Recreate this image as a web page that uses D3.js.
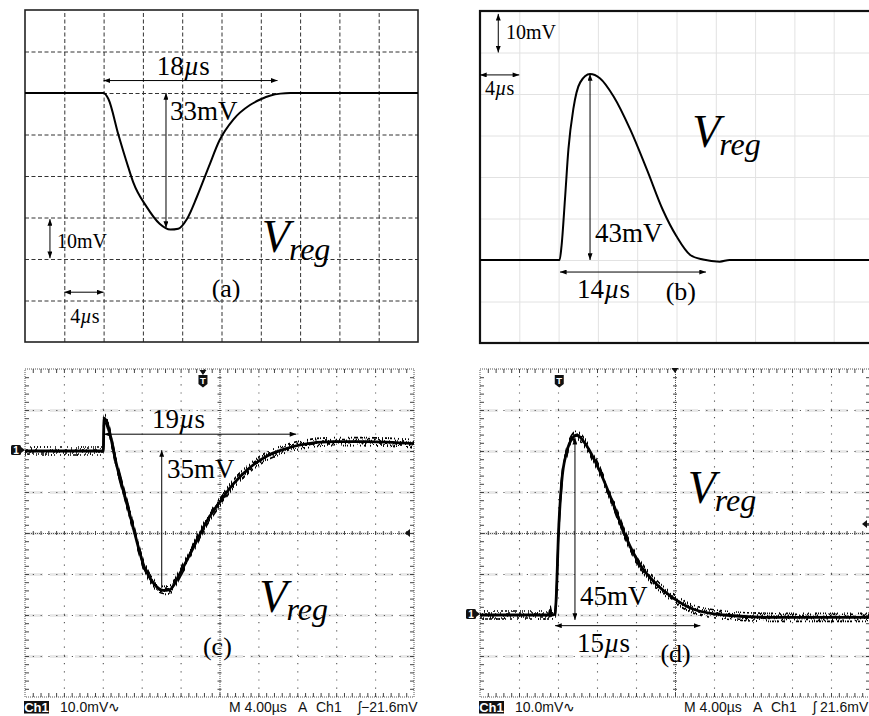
<!DOCTYPE html>
<html><head><meta charset="utf-8">
<script src="https://cdn.jsdelivr.net/npm/d3@7"></script>
<style>body{margin:0;background:#fff}svg{display:block}</style>
</head><body>
<svg id="chart" width="869" height="716"></svg>
<script>
// ---------------- DATA ----------------
const timeDomain = [0, 40];                 // µs, 4 µs / div
const timeTicks = [4, 8, 12, 16, 24, 28, 32, 36];
const timeCenter = 20;
const timeMinor = d3.range(0.8, 40, 0.8);

const voltDomainA = [20, -60], voltTicksA = [10, 0, -10, -20, -30, -40, -50];
const voltDomainB = [60, -20], voltTicksB = [50, 40, 30, 20, 10, 0, -10];
const voltDomainC = [20, -60], voltTicksC = [10, 0, -10, -30, -40, -50], voltCenterC = -20;
const voltDomainD = [60, -20], voltTicksD = [50, 40, 30, 10, 0, -10], voltCenterD = 20;
const voltMinorC = d3.range(-58, 20, 2);
const voltMinorD = d3.range(-18, 60, 2);

// (a) simulated Vreg, load step
const timeA = [0, 8, 8.5, 9.5, 10.5, 11.0, 12.4, 13.7, 14.8, 15.6, 16.5, 17.5, 18.7, 19.8, 21.2, 22.9, 24.0, 25.0, 26.0, 27.0, 40];
const vregA = [0, 0, -1.5, -10, -17.8, -21.4, -27.5, -31.5, -32.9, -32.7, -30.3, -25, -17.8, -11.4, -6.4, -2.9, -1.5, -0.6, -0.15, 0, 0];
// (b) simulated Vreg, load release
const timeB = [0, 8.1, 8.3, 8.65, 9.0, 9.5, 10.2, 11.2, 12.2, 13.6, 15.3, 17.0, 18.6, 20.0, 21.4, 22.7, 24.4, 25.4, 40];
const vregB = [0, 0, 3.4, 14.7, 26.7, 36.4, 42.8, 44.8, 43.8, 39.4, 31.4, 21.7, 12.1, 5.7, 1.2, 0.1, -0.4, 0, 0];
// (c) measured Vreg, load step
const timeC = [0, 8.05, 8.13, 9.5, 11.0, 12.3, 13.3, 14.2, 14.9, 15.9, 17.3, 18.7, 20.1, 21.4, 23.1, 24.9, 26.6, 28.3, 31.7, 35.1, 40];
const vregC = [0, 0, 8, -4.2, -17.5, -28.5, -32.5, -34, -33.8, -30, -23.6, -17.1, -12.2, -8.1, -4.1, -1.2, 0.4, 1.5, 2.3, 2.3, 1.8];
// (d) measured Vreg, load release
const timeD = [0, 7.1, 7.2, 7.3, 7.7, 7.86, 8.03, 8.38, 8.9, 9.56, 9.9, 10.9, 12.3, 13.7, 15.0, 16.4, 18.1, 19.8, 21.9, 25, 30.1, 40];
const vregD = [0, 0, 1.2, 0, 0.2, 6.6, 18.8, 32.5, 39.8, 43.4, 43.9, 41.4, 35, 26.9, 18.8, 12.3, 7.5, 4.2, 1.4, 0, -0.6, -0.6];

// annotation anchors (µs, mV)
const widthA = ["18", 8, 25.7, 3], depthA = ["33", 14.35, 0, -32.5];
const widthB = ["14", 8.14, 23, -2.9], depthB = ["43", 11.2, 0, 44.8];
const widthC = ["19", 8.12, 27.9, 4.1], depthC = ["35", 14.06, 0.2, -33.4];
const widthD = ["15", 7.7, 22.6, -2.6], depthD = ["45", 9.74, -1.2, 43.2];
const scaleLabels = ["10mV", "4"];
const statusLabels = ["Ch1", "10.0mV\u223F", "M 4.00\u00B5s", "A", "Ch1"];
const trigLevelC = "\u0283\u221221.6mV", trigLevelD = "\u0283 21.6mV";

// ---------------- DRAW ----------------
const SERIF = "'Liberation Serif','Times New Roman',serif";
const SANS = "'Liberation Sans',Arial,sans-serif";
const svg = d3.select("#chart");
svg.append("rect").attr("width", 869).attr("height", 716).attr("fill", "#fff");

const defs = svg.append("defs");
defs.append("marker").attr("id", "arr").attr("viewBox", "0 0 8 6").attr("refX", 8).attr("refY", 3)
  .attr("markerWidth", 7).attr("markerHeight", 5).attr("markerUnits", "userSpaceOnUse")
  .attr("orient", "auto-start-reverse")
  .append("path").attr("d", "M0,0L8,3L0,6Z").attr("fill", "#000");
function noiseFilter(id, seed, scale) {
  const flt = defs.append("filter").attr("id", id).attr("filterUnits", "userSpaceOnUse")
    .attr("x", 0).attr("y", 0).attr("width", 869).attr("height", 716);
  flt.append("feTurbulence").attr("type", "fractalNoise").attr("baseFrequency", "1.3 0.02").attr("numOctaves", 2).attr("seed", seed).attr("result", "t");
  flt.append("feColorMatrix").attr("in", "t").attr("type", "matrix")
    .attr("values", "0 0 0 0 0.5  0 4 0 0 -1.5  0 0 0 0 0  0 0 0 0 1").attr("result", "m");
  flt.append("feDisplacementMap").attr("in", "SourceGraphic").attr("in2", "m").attr("scale", scale)
    .attr("xChannelSelector", "R").attr("yChannelSelector", "G");
}
noiseFilter("noise1", 4, 8);
noiseFilter("noise2", 11, 8);

function mk(xr, yr, vdom) {
  return { x: d3.scaleLinear().domain(timeDomain).range(xr), y: d3.scaleLinear().domain(vdom).range(yr) };
}
const PA = mk([25, 418], [10, 342], voltDomainA);
const PB = mk([480, 873], [11, 343], voltDomainB);
const PC = mk([25, 414], [369, 697], voltDomainC);
const PD = mk([480, 870], [369, 697], voltDomainD);

function gridAxis(g, axisFn, scale, ticks, size, tr, stroke, width, dash) {
  const gg = g.append("g").attr("transform", tr)
    .call(axisFn(scale).tickValues(ticks).tickSize(size).tickFormat(""));
  gg.select(".domain").remove();
  gg.selectAll("text").remove();
  gg.selectAll("line").attr("stroke", stroke).attr("stroke-width", width).attr("stroke-dasharray", dash || null);
  return gg;
}
function text(g, x, y, parts, size, anchor) {
  const t = g.append("text").attr("x", x).attr("y", y).attr("font-family", SERIF)
    .attr("font-size", size).attr("text-anchor", anchor || "start").attr("fill", "#000");
  parts.forEach(p => t.append("tspan").text(p[0]).attr("font-style", p[1] ? "italic" : null));
  return t;
}
function mus(n) { return [[n, 0], ["\u00B5", 1], ["s", 0]]; }
function vreg(g, x, y) {
  const t = g.append("text").attr("x", x).attr("y", y).attr("font-family", SERIF).attr("font-style", "italic");
  t.append("tspan").text("V").attr("font-size", 46);
  t.append("tspan").text("reg").attr("font-size", 32).attr("dy", 8).attr("dx", -1);
}
function arrow(g, P, t1, v1, t2, v2, both) {
  g.append("line").attr("x1", P.x(t1)).attr("y1", P.y(v1)).attr("x2", P.x(t2)).attr("y2", P.y(v2))
    .attr("stroke", "#000").attr("stroke-width", 1)
    .attr("marker-end", "url(#arr)").attr("marker-start", both === false ? null : "url(#arr)");
}
function trace(g, P, ts, vs, noisy) {
  const data = ts.map((t, i) => ({ t, v: vs[i] }));
  const line = d3.line().x(d => P.x(d.t)).y(d => P.y(d.v)).curve(d3.curveMonotoneX);
  g.append("path").attr("d", line(data)).attr("fill", "none").attr("stroke", "#000")
    .attr("stroke-width", noisy ? 2.8 : 2).attr("stroke-linejoin", "round");
  if (noisy) {
    ["noise1", "noise2"].forEach(f => g.append("path").attr("d", line(data)).attr("fill", "none").attr("stroke", "#000")
      .attr("stroke-width", 1.7).attr("filter", `url(#${f})`));
  }
}

// ----- Panel (a) -----
(function () {
  const P = PA, g = svg.append("g");
  const [x0, x1] = P.x.range(), [y0, y1] = P.y.range();
  gridAxis(g, d3.axisBottom, P.x, timeTicks.concat([timeCenter]), -(y1 - y0), `translate(0,${y1})`, "#333", 1, "4,2.5");
  gridAxis(g, d3.axisLeft, P.y, voltTicksA, -(x1 - x0), `translate(${x0},0)`, "#333", 1, "4,2.5");
  g.append("rect").attr("x", x0).attr("y", y0).attr("width", x1 - x0).attr("height", y1 - y0)
    .attr("fill", "none").attr("stroke", "#222").attr("stroke-width", 1.6);
  trace(g, P, timeA, vregA, false);
  arrow(g, P, widthA[1], widthA[3], widthA[2], widthA[3]);
  arrow(g, P, depthA[1], depthA[2], depthA[1], depthA[3]);
  arrow(g, P, 2.54, -30.4, 2.54, -39.8);
  arrow(g, P, 4, -48, 8, -48);
  text(g, P.x(16.1), P.y(4.3), mus(widthA[0]), 27, "middle");
  text(g, P.x(14.76), P.y(-6.5), [[depthA[0] + "mV", 0]], 27);
  text(g, P.x(3.26), P.y(-37.3), [[scaleLabels[0], 0]], 20);
  text(g, P.x(4.6), P.y(-55.4), mus(scaleLabels[1]), 20);
  text(g, P.x(19), P.y(-49.2), [["(a)", 0]], 26);
  vreg(g, P.x(24.1), P.y(-38.3));
})();

// ----- Panel (b) -----
(function () {
  const P = PB, g = svg.append("g");
  const [x0, x1] = P.x.range(), [y0, y1] = P.y.range();
  gridAxis(g, d3.axisBottom, P.x, timeTicks.concat([timeCenter]), -(y1 - y0), `translate(0,${y1})`, "#e2e2e2", 1);
  gridAxis(g, d3.axisLeft, P.y, voltTicksB, -(x1 - x0), `translate(${x0},0)`, "#e2e2e2", 1);
  g.append("rect").attr("x", x0).attr("y", y0).attr("width", x1 - x0).attr("height", y1 - y0)
    .attr("fill", "none").attr("stroke", "#111").attr("stroke-width", 2.2);
  trace(g, P, timeB, vregB, false);
  arrow(g, P, 1.86, 50, 1.86, 59.3);
  arrow(g, P, 0, 44.6, 4, 44.6);
  arrow(g, P, depthB[1], depthB[2], depthB[1], depthB[3]);
  arrow(g, P, widthB[1], widthB[3], widthB[2], widthB[3]);
  text(g, P.x(2.65), P.y(53.3), [[scaleLabels[0], 0]], 20);
  text(g, P.x(0.5), P.y(39.8), mus(scaleLabels[1]), 20);
  text(g, P.x(11.7), P.y(4.3), [[depthB[0] + "mV", 0]], 27);
  text(g, P.x(9.87), P.y(-9.2), mus(widthB[0]), 27);
  text(g, P.x(18.9), P.y(-9.6), [["(b)", 0]], 26);
  vreg(g, P.x(21.6), P.y(27.2));
})();

// ----- scope panels -----
function scopeGrid(g, P, vTicks, vCenter, vMinor) {
  const [x0, x1] = P.x.range(), [y0, y1] = P.y.range();
  const h = y1 - y0, w = x1 - x0;
  gridAxis(g, d3.axisLeft, P.y, vTicks.concat([vCenter]), -w, `translate(${x0},0)`, "#e9e9e9", 3, "18,7");
  gridAxis(g, d3.axisBottom, P.x, timeTicks, -h, `translate(0,${y1})`, "#555", 1.1, "1.2,7");
  gridAxis(g, d3.axisLeft, P.y, vTicks, -w, `translate(${x0},0)`, "#555", 1.1, "1.2,6.6");
  gridAxis(g, d3.axisBottom, P.x, [timeCenter], -h, `translate(0,${y1})`, "#555", 1, "1,1");
  gridAxis(g, d3.axisLeft, P.y, [vCenter], -w, `translate(${x0},0)`, "#555", 1, "1,1");
  gridAxis(g, d3.axisBottom, P.x, timeMinor, 4, `translate(0,${P.y(vCenter) - 2})`, "#444", 1);
  gridAxis(g, d3.axisRight, P.y, vMinor, 4, `translate(${P.x(timeCenter) - 2},0)`, "#444", 1);
  g.append("rect").attr("x", x0).attr("y", y0).attr("width", w).attr("height", h)
    .attr("fill", "none").attr("stroke", "#555").attr("stroke-width", 1).attr("stroke-dasharray", "1,1");
  gridAxis(g, d3.axisBottom, P.x, timeMinor, 4, `translate(0,${y0})`, "#444", 1);
  gridAxis(g, d3.axisTop, P.x, timeMinor, 4, `translate(0,${y1})`, "#444", 1);
  gridAxis(g, d3.axisRight, P.y, vMinor, 4, `translate(${x0},0)`, "#444", 1);
  gridAxis(g, d3.axisLeft, P.y, vMinor, 4, `translate(${x1},0)`, "#444", 1);
}
function chMarker(g, P) {
  const x0 = P.x.range()[0], yc = P.y(0) - 1;
  g.append("rect").attr("x", x0 - 14).attr("y", yc - 5).attr("width", 10).attr("height", 10).attr("rx", 1.5).attr("fill", "#111");
  g.append("path").attr("d", `M${x0 - 4},${yc - 3}L${x0},${yc}L${x0 - 4},${yc + 3}Z`).attr("fill", "#111");
  g.append("text").attr("x", x0 - 9).attr("y", yc + 4).attr("font-family", SANS).attr("font-weight", "bold")
    .attr("font-size", 10).attr("fill", "#fff").attr("text-anchor", "middle").text("1");
}
function trigMarker(g, x, y) {
  g.append("path").attr("d", `M${x - 4.5},${y}L${x + 4.5},${y}L${x + 4.5},${y + 9}L${x},${y + 12.5}L${x - 4.5},${y + 9}Z`).attr("fill", "#111");
  g.append("text").attr("x", x).attr("y", y + 9).attr("font-family", SANS).attr("font-weight", "bold")
    .attr("font-size", 9.5).attr("fill", "#fff").attr("text-anchor", "middle").text("T");
}
function downTri(g, x, y) {
  g.append("path").attr("d", `M${x - 3.5},${y}L${x + 3.5},${y}L${x},${y + 5}Z`).attr("fill", "#111");
}
function status(g, P, trig) {
  const x0 = P.x.range()[0], yb = 711.5;
  g.append("rect").attr("x", x0 - 1).attr("y", 701).attr("width", 25).attr("height", 12.5).attr("fill", "#111");
  g.append("text").attr("x", x0 + 11.5).attr("y", yb).attr("font-family", SANS).attr("font-weight", "bold")
    .attr("font-size", 13).attr("fill", "#fff").attr("text-anchor", "middle").text(statusLabels[0]);
  const s = (dx, t) => g.append("text").attr("x", x0 + dx).attr("y", yb).attr("font-family", SANS)
    .attr("font-size", 14).attr("fill", "#111").text(t);
  s(35, statusLabels[1]); s(204, statusLabels[2]); s(273, statusLabels[3]); s(291, statusLabels[4]); s(333, trig);
}

// ----- Panel (c) -----
(function () {
  const P = PC, g = svg.append("g");
  scopeGrid(g, P, voltTicksC, voltCenterC, voltMinorC);
  trace(g, P, timeC, vregC, true);
  chMarker(g, P);
  downTri(g, P.x(18.3), P.y.range()[0] + 1);
  trigMarker(g, P.x(18.3), P.y.range()[0] + 6);
  const yc = P.y(voltCenterC), xr = P.x.range()[1];
  g.append("path").attr("d", `M${xr - 9},${yc}L${xr - 4},${yc - 4}L${xr - 4},${yc + 4}Z`).attr("fill", "#111");
  arrow(g, P, widthC[1], widthC[3], widthC[2], widthC[3]);
  arrow(g, P, depthC[1], depthC[3], depthC[1], depthC[2], false);
  text(g, P.x(13.06), P.y(5.6), mus(widthC[0]), 27);
  text(g, P.x(14.6), P.y(-6.6), [[depthC[0] + "mV", 0]], 27);
  text(g, P.x(18.3), P.y(-49.8), [["(c)", 0]], 26);
  vreg(g, P.x(24.1), P.y(-39.2));
  status(g, P, trigLevelC);
})();

// ----- Panel (d) -----
(function () {
  const P = PD, g = svg.append("g");
  scopeGrid(g, P, voltTicksD, voltCenterD, voltMinorD);
  trace(g, P, timeD, vregD, true);
  chMarker(g, P);
  downTri(g, P.x(timeCenter), P.y.range()[0] - 1);
  trigMarker(g, P.x(8.13), P.y.range()[0] + 6);
  const ya = P.y(22.2);
  g.append("path").attr("d", `M862,${ya}L867,${ya - 4}L867,${ya + 4}Z`).attr("fill", "#111");
  g.append("line").attr("x1", 866).attr("x2", 869).attr("y1", ya).attr("y2", ya).attr("stroke", "#111").attr("stroke-width", 1.5);
  arrow(g, P, depthD[1], depthD[2], depthD[1], depthD[3]);
  arrow(g, P, widthD[1], widthD[3], widthD[2], widthD[3]);
  text(g, P.x(10.26), P.y(2.4), [[depthD[0] + "mV", 0]], 27);
  text(g, P.x(9.95), P.y(-9), mus(widthD[0]), 27);
  text(g, P.x(18.5), P.y(-11.4), [["(d)", 0]], 26);
  vreg(g, P.x(21.3), P.y(27.2));
  status(g, P, trigLevelD);
})();
</script>
</body></html>
